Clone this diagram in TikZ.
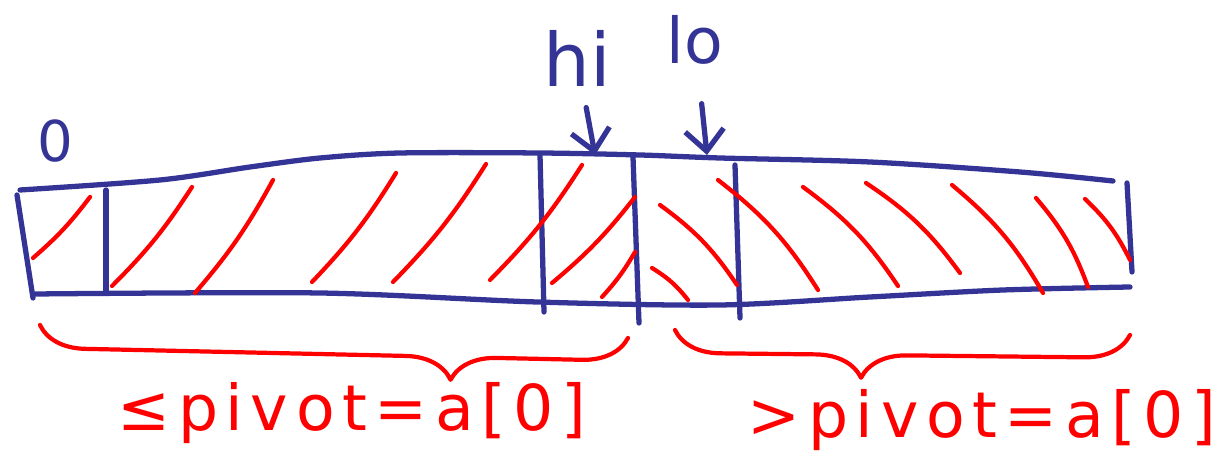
\documentclass[tikz,border=0pt]{standalone}
\usepackage{fontspec}
\setmainfont{DejaVu Sans}
\usetikzlibrary{arrows.meta,decorations.pathreplacing}
\definecolor{inkblue}{RGB}{52,52,150}
\definecolor{inkred}{RGB}{255,0,0}

\begin{document}
\begin{tikzpicture}[x=0.1mm,y=-0.1mm,line cap=round,line join=round,
  frame/.style={inkblue,line width=1.5pt},
  hatch/.style={inkred,line width=1.2pt},
  ptr/.style={inkblue,line width=1.5pt,-{Straight Barb[length=6pt,width=11pt]},shorten <=4pt},
  idx/.style={text=inkblue,inner sep=2pt},
  brc/.style={inkred,line width=1.2pt,decorate,decoration={brace,mirror,amplitude=13pt,aspect=#1}},
  part/.style={text=inkred,font=\fontsize{18}{20}\selectfont\addfontfeatures{LetterSpace=12}}]
\useasboundingbox (0,0) rectangle (1220,468);
% the array
\draw[frame] plot[smooth,tension=.5] coordinates {(20,190) (160,180) (250,167) (320,158) (400,153) (540,153) (640,155) (720,158) (870,162) (1020,172) (1113,181)};
\draw[frame] plot[smooth,tension=.5] coordinates {(35,294) (320,293) (537,302) (720,305) (870,297) (1003,290) (1130,287)};
\draw[frame] (17,195) -- (33,298);
\draw[frame] (106,190) -- (106,292);
\draw[frame] (540,155) -- (544,312);
\draw[frame] (633,157) -- (639,323);
\draw[frame] (735,165) -- (740,318);
\draw[frame] (1127,183) -- (1132,272);
% hatching
\foreach \xa/\ya/\xb/\yb in {33/258/90/197,112/286/192/187,195/293/273/180,312/282/396/173,
  393/282/486/164,490/280/582/165,552/283/635/197,602/297/635/252}
  \draw[hatch] (\xa,\ya) to[bend right=6] (\xb,\yb);
\foreach \xa/\ya/\xb/\yb in {660/205/737/285,652/268/688/300,718/180/818/290,803/187/898/286,
  866/183/960/273,952/185/1043/293,1036/198/1088/287,1085/199/1130/260}
  \draw[hatch] (\xa,\ya) to[bend left=10] (\xb,\yb);
% indices
\node[idx,font=\fontsize{16}{18}\selectfont] (first) at (55,141) {0};
\node[idx,font=\fontsize{21}{24}\selectfont] (hi) at (577,58) {hi};
\node[idx,font=\fontsize{18}{20}\selectfont] (lo) at (695,40) {lo};
\coordinate (hitip) at (595,155);
\coordinate (lotip) at (707,155);
\draw[ptr] (hi) -- (hitip);
\draw[ptr,shorten <=9pt] (lo) -- (lotip);
% the two parts
\draw[brc=0.7] (40,325) -- (628,338);
\draw[brc=0.41] (675,330) -- (1130,335);
\node[part] (lower) at (352,413) {≤pivot=a[0]};
\node[part] (upper) at (982,420) {>pivot=a[0]};
\end{tikzpicture}
\end{document}
